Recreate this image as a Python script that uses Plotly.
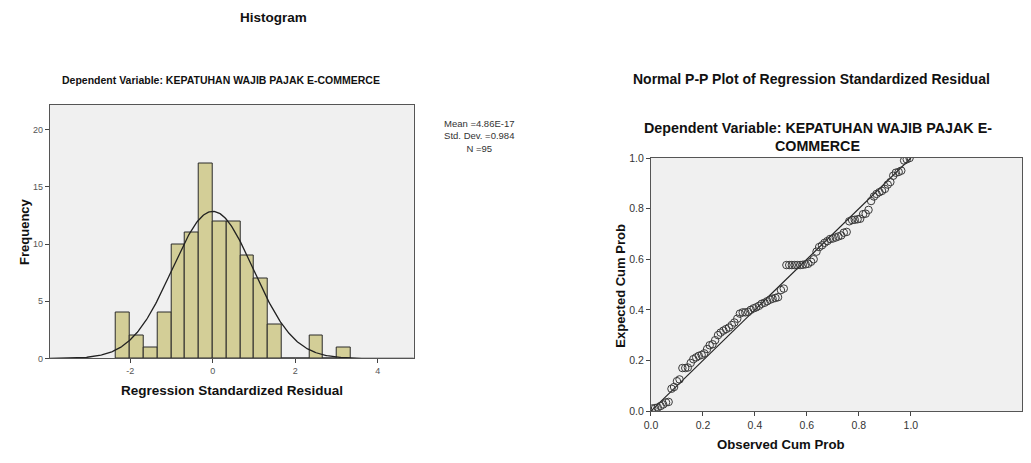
import numpy as np
import plotly.graph_objects as go

# ---------------- data ----------------
bin_lefts = [-2.34, -2.006, -1.672, -1.338, -1.004, -0.67, -0.336, 0.0, 0.334,
             0.668, 1.002, 1.336, 1.67, 2.004, 2.338, 2.672, 3.006]
bin_width = 0.334
bin_counts = [4, 2, 1, 4, 10, 11, 17, 12, 12, 9, 7, 3, 0, 0, 2, 0, 1]
res_mean = 4.86e-17
res_sd = 0.984
res_n = 95

hist_xticks = [-2, 0, 2, 4]
hist_xticklabels = ["-2", "0", "2", "4"]
hist_yticks = [0, 5, 10, 15, 20]

pp_observed = [0.005, 0.016, 0.026, 0.037, 0.047, 0.058, 0.068, 0.079, 0.089, 0.100,
               0.110, 0.121, 0.132, 0.142, 0.153, 0.163, 0.174, 0.184, 0.195, 0.205,
               0.216, 0.226, 0.237, 0.247, 0.258, 0.268, 0.279, 0.289, 0.300, 0.311,
               0.321, 0.332, 0.342, 0.353, 0.363, 0.374, 0.384, 0.395, 0.405, 0.416,
               0.426, 0.437, 0.447, 0.458, 0.468, 0.479, 0.489, 0.500, 0.511, 0.521,
               0.532, 0.542, 0.553, 0.563, 0.574, 0.584, 0.595, 0.605, 0.616, 0.626,
               0.637, 0.647, 0.658, 0.668, 0.679, 0.689, 0.700, 0.711, 0.721, 0.732,
               0.742, 0.753, 0.763, 0.774, 0.784, 0.795, 0.805, 0.816, 0.826, 0.837,
               0.847, 0.858, 0.868, 0.879, 0.889, 0.900, 0.911, 0.921, 0.932, 0.942,
               0.953, 0.963, 0.974, 0.984, 0.995]
pp_expected = [0.010, 0.012, 0.014, 0.020, 0.026, 0.034, 0.036, 0.088, 0.095, 0.118,
               0.125, 0.170, 0.170, 0.172, 0.190, 0.205, 0.212, 0.218, 0.222, 0.228,
               0.245, 0.260, 0.264, 0.280, 0.300, 0.310, 0.318, 0.324, 0.330, 0.340,
               0.350, 0.365, 0.385, 0.390, 0.390, 0.392, 0.400, 0.406, 0.410, 0.416,
               0.424, 0.428, 0.434, 0.440, 0.444, 0.447, 0.450, 0.478, 0.484, 0.577,
               0.577, 0.577, 0.577, 0.577, 0.577, 0.578, 0.580, 0.582, 0.590, 0.600,
               0.630, 0.648, 0.655, 0.665, 0.672, 0.680, 0.682, 0.686, 0.690, 0.694,
               0.705, 0.708, 0.750, 0.755, 0.756, 0.758, 0.760, 0.778, 0.780, 0.795,
               0.830, 0.848, 0.858, 0.865, 0.870, 0.878, 0.895, 0.905, 0.930, 0.942,
               0.945, 0.950, 0.990, 0.995, 1.000]
pp_ticks = [0.0, 0.2, 0.4, 0.6, 0.8, 1.0]
ref_line = [0.0, 1.0]

# ---------------- figure ----------------
# page body has an 8px default margin, so the figure is drawn 8px in from the corner
OFF = 8
W, H = 1031 - 2 * OFF, 463 - 2 * OFF
FONT = "Liberation Sans, Arial, sans-serif"
BAR_COLOR = "#D3CE97"
BG = "#F0F0F0"

def px(x):
    return min(1.0, max(0.0, (x - OFF) / W))

def py(y):
    return min(1.0, max(0.0, 1 - (y - OFF) / H))

# histogram plot box (reference pixels)
HL, HR, HT, HB = 43, 410, 101, 362
h_ppu = 41.6           # pixels per residual unit
h_x0 = -3.95
h_x1 = h_x0 + (HR - HL) / h_ppu
# P-P plot box
PL, PR, PT, PB = 649, min(1030, W + OFF), 156, 416
p_ppu = 262.0
p_x1 = (PR - PL) / p_ppu

fig = go.Figure()

centers = [l + bin_width / 2 for l in bin_lefts]
fig.add_trace(go.Bar(
    x=centers, y=bin_counts, width=bin_width,
    marker=dict(color=BAR_COLOR, line=dict(color="#2a2a2a", width=1)),
    xaxis="x", yaxis="y", showlegend=False, hoverinfo="x+y"))

# fitted normal curve from the reported statistics
xc = np.linspace(h_x0, h_x1, 400)
yc = res_n * bin_width * np.exp(-0.5 * ((xc - res_mean) / res_sd) ** 2) / (res_sd * np.sqrt(2 * np.pi))
fig.add_trace(go.Scatter(x=xc, y=yc, mode="lines",
                         line=dict(color="#222222", width=1.3),
                         xaxis="x", yaxis="y", showlegend=False, hoverinfo="skip"))

# P-P plot
fig.add_trace(go.Scatter(x=ref_line, y=ref_line, mode="lines",
                         line=dict(color="#222222", width=1.2),
                         xaxis="x2", yaxis="y2", showlegend=False, hoverinfo="skip"))
fig.add_trace(go.Scatter(x=pp_observed, y=pp_expected, mode="markers",
                         marker=dict(symbol="circle-open", size=7.5,
                                     color="#3a3a3a", line=dict(width=1)),
                         xaxis="x2", yaxis="y2", showlegend=False))

def axis_common(size, color):
    return dict(showgrid=False, zeroline=False, showline=True, mirror=True,
                linecolor="#555555", linewidth=1, ticks="outside", ticklen=4,
                tickcolor="#444444",
                tickfont=dict(family=FONT, size=size, color=color))

fig.update_layout(
    width=W, height=H, autosize=False,
    margin=dict(l=0, r=0, t=0, b=0),
    paper_bgcolor="white", plot_bgcolor=BG,
    bargap=0,
    font=dict(family=FONT, color="#111111"),
    xaxis=dict(domain=[px(HL), px(HR)], range=[h_x0, h_x1],
               tickvals=hist_xticks, ticktext=hist_xticklabels, anchor="y",
               **axis_common(9, "#555555")),
    yaxis=dict(domain=[py(HB), py(HT)], range=[0, 22.2],
               tickvals=hist_yticks, anchor="x", **axis_common(9, "#555555")),
    xaxis2=dict(domain=[px(PL), px(PR)], range=[0, p_x1],
                tickvals=pp_ticks, tickformat=".1f", anchor="y2",
                **axis_common(10.5, "#333333")),
    yaxis2=dict(domain=[py(PB), py(PT)], range=[0, 1.0],
                tickvals=pp_ticks, tickformat=".1f", anchor="x2",
                **axis_common(10.5, "#333333")),
)

def text(x, y, s, size, bold=True, angle=0, color="#111111", yanchor="middle", pad=1):
    fig.add_annotation(x=px(x), y=py(y), xref="paper", yref="paper",
                       text=("<b>%s</b>" % s) if bold else s, showarrow=False,
                       textangle=angle, xanchor="center", yanchor=yanchor,
                       borderpad=pad,
                       font=dict(family=FONT, size=size, color=color))

text(269, 12, "Histogram", 13.5)
text(216, 76, "Dependent Variable: KEPATUHAN WAJIB PAJAK E-COMMERCE", 10.5)
text(227, 395, "Regression Standardized Residual", 13.5)
text(17, 231, "Frequency", 13, angle=-90)

fig.add_annotation(x=px(476), y=py(133), xref="paper", yref="paper",
                   text="Mean =4.86E-17<br>Std. Dev. =0.984<br>N =95",
                   showarrow=False, xanchor="center", yanchor="middle", align="center",
                   font=dict(family=FONT, size=9.5, color="#333333"))

text(811, 75, "Normal P-P Plot of Regression Standardized Residual", 14)
text(817, 134.5, "Dependent Variable: KEPATUHAN WAJIB PAJAK E-", 14.3, yanchor="bottom", pad=0)
text(817, 134.5, "COMMERCE", 14.3, yanchor="top", pad=0)
text(780, 450, "Observed Cum Prob", 13.2)
text(618, 287, "Expected Cum Prob", 13, angle=-90)

fig.write_html("out.html")
